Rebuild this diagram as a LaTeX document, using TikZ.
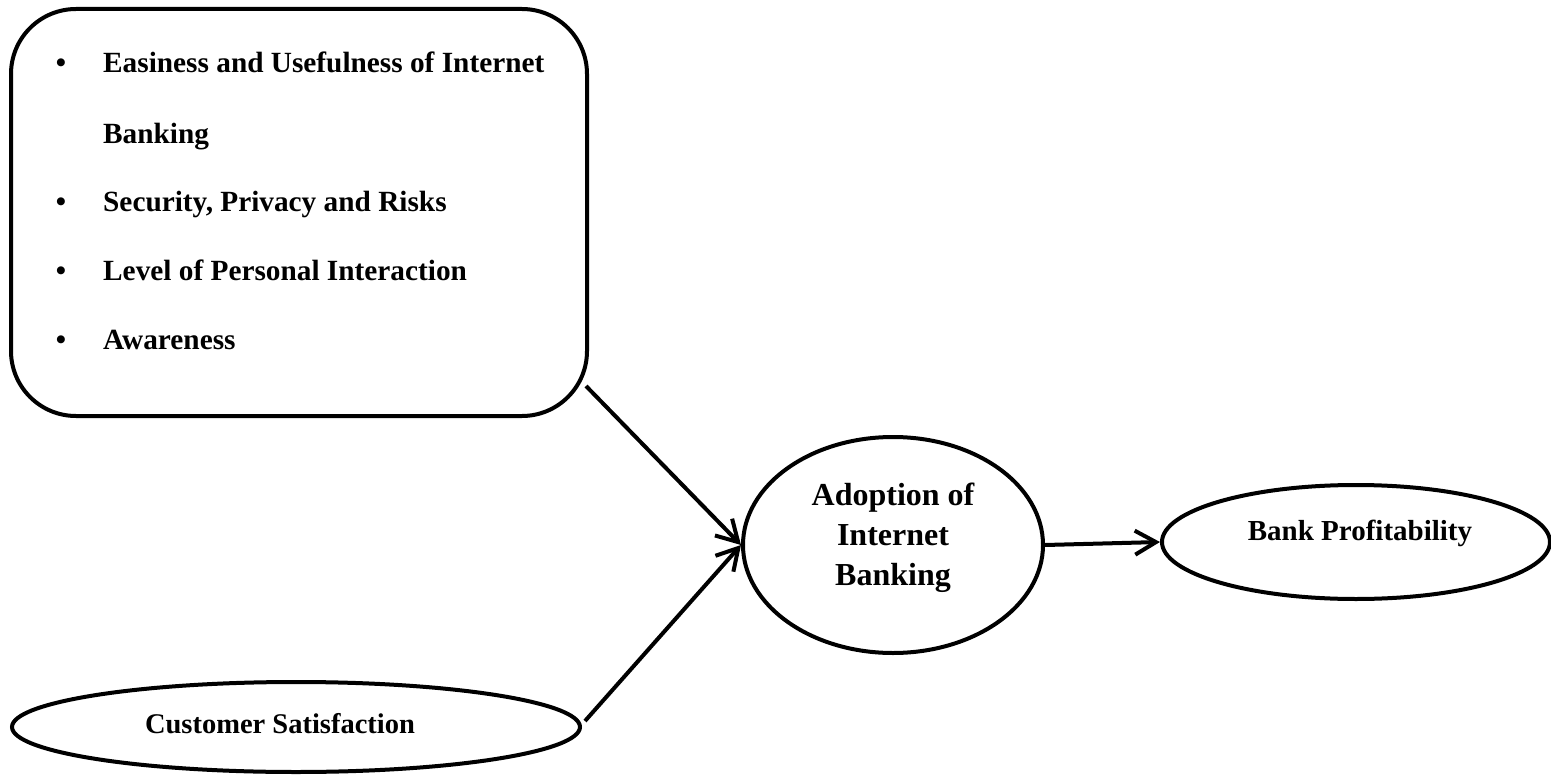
\documentclass[tikz,border=0pt]{standalone}
\usepackage{fontspec}
\setmainfont{Liberation Serif}
\usetikzlibrary{arrows.meta,shapes.geometric}
\tikzset{
  shape line/.style={draw=black, line width=4pt},
  arr/.style={line width=4pt, -{Straight Barb[length=21pt,width=24pt,line width=4pt]}},
  item/.style={anchor=base west, inner sep=0pt, font=\fontsize{29.3}{35}\selectfont\bfseries},
  dot/.style={anchor=base, inner sep=0pt, font=\fontsize{29.3}{35}\selectfont\bfseries},
  lbl/.style={align=center, inner sep=0pt, font=\fontsize{29}{40}\selectfont\bfseries}
}
\begin{document}
\begin{tikzpicture}[x=1pt,y=-1pt]
\useasboundingbox (0,0) rectangle (1551,776);
% factor box
\node[shape line, rounded corners=65pt, minimum width=576pt, minimum height=407pt, inner sep=0pt] (box) at (299,212.5) {};
\node[dot] (b1) at (61,73) {\textbullet};
\node[item] (t1) at (103,73) {Easiness and Usefulness of Internet};
\node[item] (t1b) at (103,143) {Banking};
\node[dot] (b2) at (61,211) {\textbullet};
\node[item] (t2) at (103,211) {Security, Privacy and Risks};
\node[dot] (b3) at (61,280) {\textbullet};
\node[item] (t3) at (103,280) {Level of Personal Interaction};
\node[dot] (b4) at (61,349) {\textbullet};
\node[item] (t4) at (103,349) {Awareness};
% ellipses
\node[shape line, ellipse, minimum width=300pt, minimum height=216pt, inner sep=0pt] (adopt) at (893,545) {};
\node[lbl, font=\fontsize{32}{40}\selectfont\bfseries] (adoptt) at (893,538) {Adoption of\\Internet\\Banking};
\node[shape line, ellipse, minimum width=388pt, minimum height=114pt, inner sep=0pt] (bank) at (1356,542) {};
\node[lbl] (bankt) at (1360,533) {Bank Profitability};
\node[shape line, ellipse, minimum width=568pt, minimum height=90pt, inner sep=0pt] (cust) at (296,727) {};
\node[lbl, font=\fontsize{28.5}{37}\selectfont\bfseries] (custt) at (280,724) {Customer Satisfaction};
% connectors
\draw[arr] ([shift={(-3,-32)}]box.south east) -- (adopt.west);
\draw[arr] ([shift={(3,-6)}]cust.east) -- (adopt.west);
\draw[arr] (adopt.east) -- (bank.west);
\end{tikzpicture}
\end{document}
